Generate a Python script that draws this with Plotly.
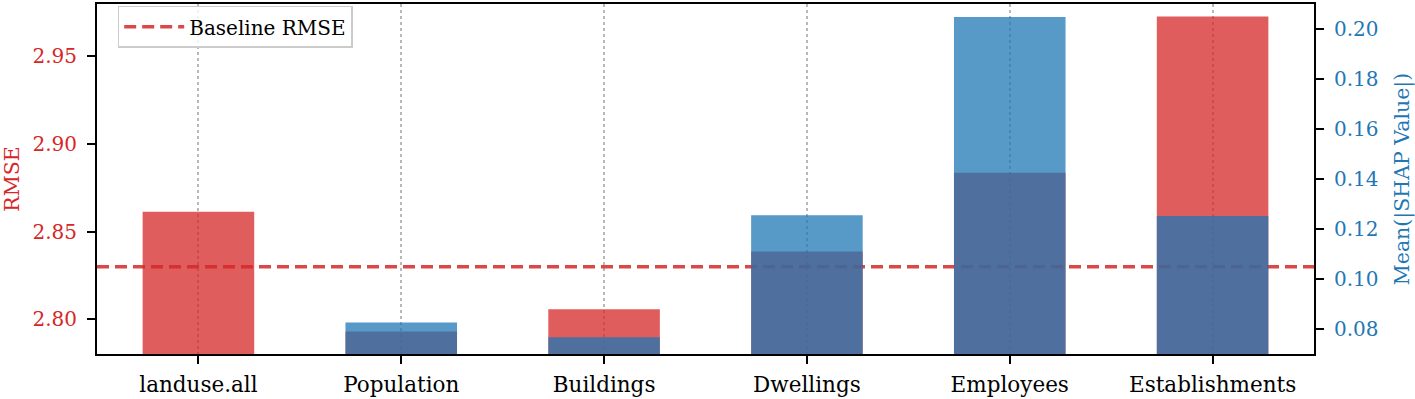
import plotly.graph_objects as go

categories = ["landuse.all", "Population", "Buildings", "Dwellings", "Employees", "Establishments"]
rmse_values = [2.8613, 2.7931, 2.8058, 2.8387, 2.8836, 2.9728]
shap_values = [None, 0.0827, 0.0768, 0.1255, 0.2046, 0.1252]
baseline_rmse = 2.830
rmse_ticks = [2.80, 2.85, 2.90, 2.95]
shap_ticks = [0.08, 0.10, 0.12, 0.14, 0.16, 0.18, 0.20]

x_pos = list(range(len(categories)))
x_range = [-0.5, len(categories) - 0.5]
RED = "#d62728"
BLUE = "#1f77b4"
FONT = "DejaVu Serif"

fig = go.Figure()
fig.add_trace(go.Bar(x=x_pos, y=rmse_values, width=0.55, yaxis="y",
                     marker=dict(color="rgba(214,39,40,0.75)", line=dict(width=0)),
                     showlegend=False, hoverinfo="skip"))
fig.add_trace(go.Scatter(x=x_range, y=[baseline_rmse, baseline_rmse], mode="lines", yaxis="y",
                         line=dict(color="rgba(214,39,40,0.85)", width=3.5, dash="12px,6px"),
                         name="Baseline RMSE"))
fig.add_trace(go.Bar(x=x_pos, y=shap_values, width=0.55, yaxis="y2",
                     marker=dict(color="rgba(31,119,180,0.75)", line=dict(width=0)),
                     showlegend=False, hoverinfo="skip"))

fig.update_layout(
    width=1415, height=399,
    margin=dict(l=97, r=101, t=2, b=44),
    plot_bgcolor="white", paper_bgcolor="white",
    barmode="overlay",
    font=dict(family=FONT, size=20, color="black"),
    xaxis=dict(range=x_range, tickvals=x_pos, ticktext=categories,
               showline=True, linecolor="black", linewidth=2, mirror=True,
               ticks="outside", ticklen=8, tickwidth=2, tickcolor="black",
               showgrid=True, gridcolor="#b8b8b8", griddash="dot", gridwidth=2,
               layer="above traces", zeroline=False, ticklabelstandoff=2,
               tickfont=dict(family=FONT, size=21.5, color="black")),
    yaxis=dict(range=[2.7802, 2.9799], tickvals=rmse_ticks, ticktext=[f"{v:.2f}" for v in rmse_ticks],
               showline=True, linecolor="black", linewidth=2,
               ticks="outside", ticklen=8, tickwidth=2, tickcolor="black",
               showgrid=False, zeroline=False, ticklabelstandoff=6,
               tickfont=dict(family=FONT, size=20, color=RED),
               title=dict(text="RMSE", font=dict(family=FONT, size=20.5, color=RED), standoff=12)),
    yaxis2=dict(range=[0.0701, 0.2098], overlaying="y", side="right",
                tickvals=shap_ticks, ticktext=[f"{v:.2f}" for v in shap_ticks],
                showline=True, linecolor="black", linewidth=2,
                ticks="outside", ticklen=8, tickwidth=2, tickcolor="black",
                showgrid=False, zeroline=False, ticklabelstandoff=6,
                tickfont=dict(family=FONT, size=20, color=BLUE),
                title=dict(text="Mean(|SHAP Value|)", font=dict(family=FONT, size=20.5, color=BLUE), standoff=18)),
    legend=dict(x=0.017, y=0.995, xanchor="left", yanchor="top", itemwidth=60,
                bgcolor="rgba(255,255,255,0.8)", bordercolor="#cccccc", borderwidth=1.5,
                font=dict(family=FONT, size=20, color="black")),
)

fig.write_html("out.html", config={"displayModeBar": False},
               post_script="document.body.style.margin='0';document.body.style.overflow='hidden';")
